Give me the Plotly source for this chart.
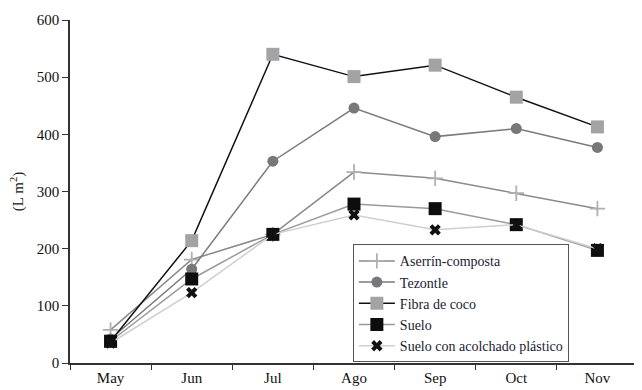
import plotly.graph_objects as go

months = ["May", "Jun", "Jul", "Ago", "Sep", "Oct", "Nov"]
aserrin = [58, 181, 225, 334, 323, 297, 270]
tezontle = [42, 164, 353, 446, 396, 410, 377]
fibra = [38, 214, 540, 501, 521, 465, 413]
suelo = [38, 147, 225, 278, 270, 242, 197]
acolchado = [35, 123, 225, 259, 233, 242, 200]
yticks = [0, 100, 200, 300, 400, 500, 600]

fig = go.Figure()
fig.add_trace(go.Scatter(x=months, y=aserrin, name="Aserrín-composta", mode="lines+markers",
                         line=dict(color="#8a8a8a", width=1.5),
                         marker=dict(symbol="cross-thin", size=11, color="#b0b0b0",
                                     line=dict(color="#b0b0b0", width=1.8))))
fig.add_trace(go.Scatter(x=months, y=tezontle, name="Tezontle", mode="lines+markers",
                         line=dict(color="#7a7a7a", width=1.5),
                         marker=dict(symbol="circle", size=11, color="#77777c")))
fig.add_trace(go.Scatter(x=months, y=fibra, name="Fibra de coco", mode="lines+markers",
                         line=dict(color="#111111", width=1.5),
                         marker=dict(symbol="square", size=13, color="#a3a3a6")))
fig.add_trace(go.Scatter(x=months, y=suelo, name="Suelo", mode="lines+markers",
                         line=dict(color="#9a9a9a", width=1.5),
                         marker=dict(symbol="square", size=13, color="#0d0d0d")))
fig.add_trace(go.Scatter(x=months, y=acolchado, name="Suelo con acolchado plástico", mode="lines+markers",
                         line=dict(color="#cfcfcf", width=1.5),
                         marker=dict(symbol="x", size=10, color="#111111")))

SERIF = "Liberation Serif"
fig.update_layout(
    width=634, height=382,
    margin=dict(l=62, r=4, t=8, b=19),
    paper_bgcolor="white", plot_bgcolor="white",
    font=dict(family=SERIF, size=15, color="#111111"),
    showlegend=True,
    legend=dict(x=0.498, y=0.346, xanchor="left", yanchor="top",
                bgcolor="white", bordercolor="#555555", borderwidth=1,
                font=dict(family=SERIF, size=14, color="#1a1a33"),
                tracegroupgap=0, itemwidth=36),
)
fig.update_xaxes(type="category", showline=True, linecolor="#333333", linewidth=1.5,
                 ticks="outside", tickson="boundaries", ticklen=5, tickcolor="#333333",
                 tickfont=dict(family=SERIF, size=15),
                 showgrid=False, zeroline=False, range=[-0.5, 6.5])
fig.update_yaxes(range=[0, 600], tickvals=yticks, showline=True, linecolor="#333333",
                 linewidth=1.5, ticks="outside", ticklen=6, tickcolor="#333333",
                 tickfont=dict(family=SERIF, size=15),
                 showgrid=False, zeroline=False,
                 title=dict(text="(L m<sup>2</sup>)", standoff=12, font=dict(family=SERIF, size=15)))
fig.write_html("out.html")
